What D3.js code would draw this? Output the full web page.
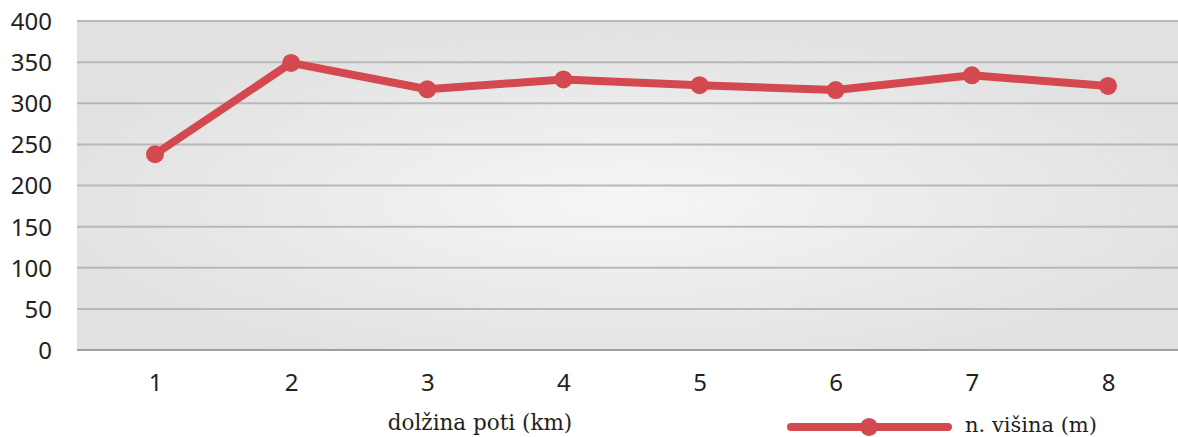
<!DOCTYPE html>
<html>
<head>
<meta charset="utf-8">
<script src="https://cdn.jsdelivr.net/npm/d3@7"></script>
<style>
  body { margin: 0; background: #fff; }
  svg { display: block; }
</style>
</head>
<body>
<div class="chart"></div>
<script>
// data
const km = ["1", "2", "3", "4", "5", "6", "7", "8"];
const visina = [238, 349, 317, 329, 322, 316, 334, 321];
const yTicks = [0, 50, 100, 150, 200, 250, 300, 350, 400];
const seriesName = "n. višina (m)";
const xTitle = "dolžina poti (km)";

const w = 1178, h = 437;
const plot = { left: 77, right: 1178, top: 21, bottom: 350 };

const svg = d3.select("div.chart")
    .append("svg")
    .attr("width", w)
    .attr("height", h);

// radial background of the plot area
const grad = svg.append("defs").append("radialGradient")
    .attr("id", "bg")
    .attr("cx", "50%").attr("cy", "55%").attr("r", "55%");
grad.append("stop").attr("offset", "0%").attr("stop-color", "#f6f6f6");
grad.append("stop").attr("offset", "100%").attr("stop-color", "#e1e1e1");

svg.append("rect")
    .attr("x", plot.left)
    .attr("y", plot.top)
    .attr("width", plot.right - plot.left)
    .attr("height", plot.bottom - plot.top)
    .attr("fill", "url(#bg)");

// scales
const xScale = d3.scalePoint()
    .domain(km)
    .range([155, 1108]);

const yScale = d3.scaleLinear()
    .domain([0, 400])
    .range([plot.bottom, plot.top]);

// grid lines
svg.append("g")
    .selectAll("line")
    .data(yTicks)
    .enter()
    .append("line")
    .attr("x1", plot.left)
    .attr("x2", plot.right)
    .attr("y1", d => yScale(d))
    .attr("y2", d => yScale(d))
    .attr("stroke", d => d === 0 ? "#a0a0a0" : "#b8b8b8")
    .attr("stroke-width", 2);

// y axis
const yAxis = d3.axisLeft(yScale).tickValues(yTicks).tickSize(0).tickPadding(0);
const gy = svg.append("g")
    .attr("transform", "translate(52,0)")
    .call(yAxis);
gy.select(".domain").remove();
gy.selectAll("text")
    .attr("font-family", "'Noto Sans', sans-serif")
    .attr("font-size", 24)
    .attr("fill", "#231f20")
    .attr("dy", "0.35em");

// x axis
const xAxis = d3.axisBottom(xScale).tickSize(0).tickPadding(0);
const gx = svg.append("g")
    .attr("transform", "translate(0,374)")
    .call(xAxis);
gx.select(".domain").remove();
gx.selectAll("text")
    .attr("font-family", "'Noto Sans', sans-serif")
    .attr("font-size", 24)
    .attr("fill", "#231f20")
    .attr("dy", "0.71em");

// x title
svg.append("text")
    .attr("x", 480)
    .attr("y", 430)
    .attr("text-anchor", "middle")
    .attr("font-family", "'DejaVu Serif', serif")
    .attr("font-size", 21.5)
    .attr("fill", "#231f20")
    .text(xTitle);

// line
const red = "#d3494f";
const line = d3.line()
    .x((d, i) => xScale(km[i]))
    .y(d => yScale(d));

svg.append("path")
    .datum(visina)
    .attr("d", line)
    .attr("fill", "none")
    .attr("stroke", red)
    .attr("stroke-width", 8)
    .attr("stroke-linejoin", "round");

svg.selectAll("circle.pt")
    .data(visina)
    .enter()
    .append("circle")
    .attr("class", "pt")
    .attr("cx", (d, i) => xScale(km[i]))
    .attr("cy", d => yScale(d))
    .attr("r", 9)
    .attr("fill", red);

// legend
const leg = svg.append("g").attr("transform", "translate(788,427)");
leg.append("line")
    .attr("x1", 3).attr("x2", 160)
    .attr("stroke", red)
    .attr("stroke-width", 8)
    .attr("stroke-linecap", "round");
leg.append("circle")
    .attr("cx", 81)
    .attr("r", 9)
    .attr("fill", red);
leg.append("text")
    .attr("x", 177)
    .attr("y", -2)
    .attr("dy", "0.35em")
    .attr("font-family", "'DejaVu Serif', serif")
    .attr("font-size", 21)
    .attr("fill", "#231f20")
    .text(seriesName);
</script>
</body>
</html>
